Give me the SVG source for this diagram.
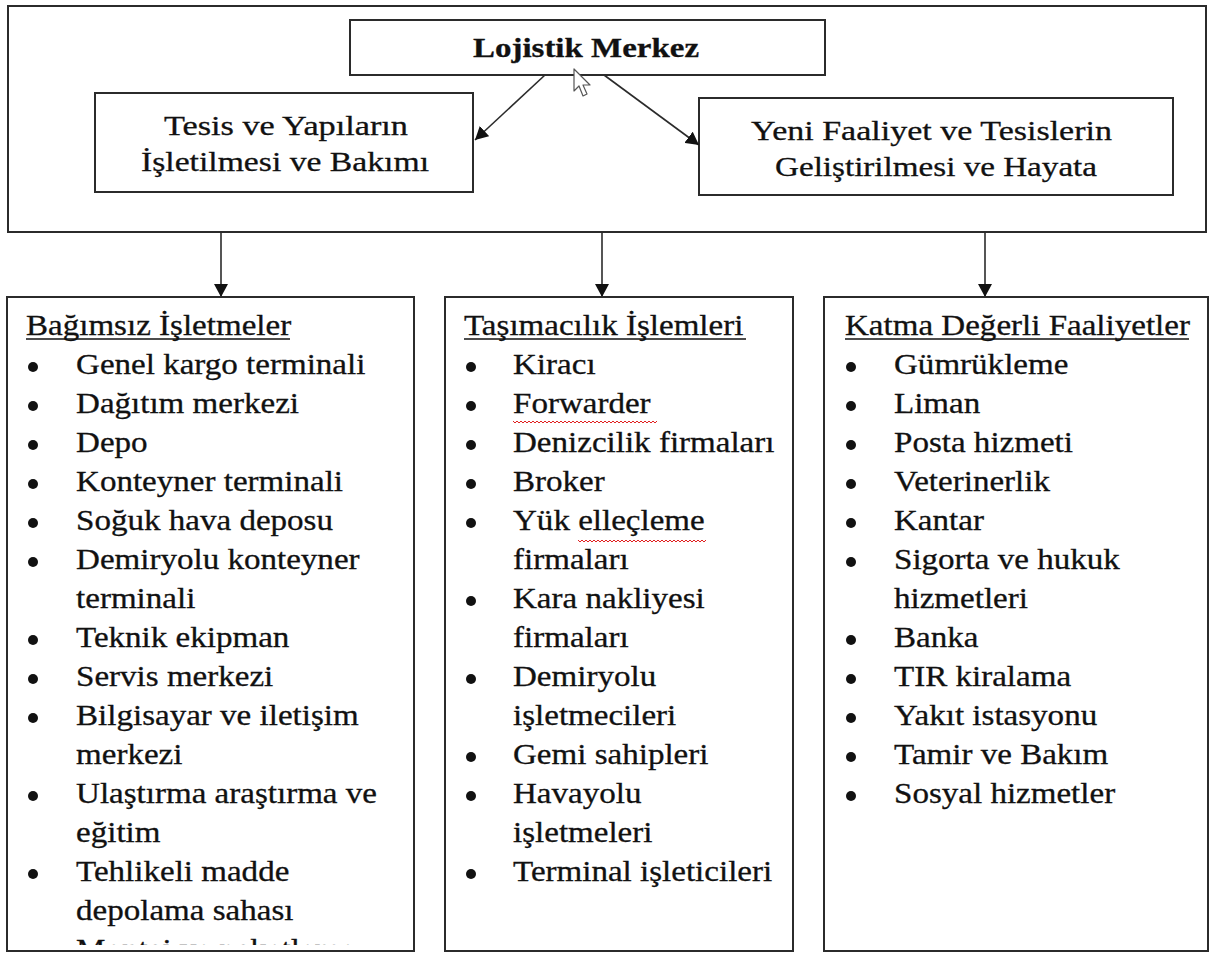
<svg xmlns="http://www.w3.org/2000/svg" width="1211" height="953" viewBox="0 0 1211 953">
  <style>
    .box { fill: #ffffff; stroke: #2b2b2b; stroke-width: 2; }
    .edge { fill: none; stroke: #2b2b2b; stroke-width: 1.6; }
    .top { font-family: "Liberation Serif", "Times New Roman", serif; font-size: 28px; fill: #111111; stroke: #111111; stroke-width: 0.3; }
    .title { font-weight: bold; }
    .col { font-family: "Liberation Serif", "Times New Roman", serif; font-size: 29px; fill: #111111; stroke: #111111; stroke-width: 0.3; }
    .uline { stroke: #111111; stroke-width: 1.5; }
    .dot { fill: #111111; }
    .spell { fill: none; stroke: #e02020; stroke-width: 1; }
  </style>
  <defs>
    <marker id="head" viewBox="0 0 13 14" refX="13" refY="7" markerWidth="13" markerHeight="14" markerUnits="userSpaceOnUse" orient="auto">
      <path d="M0,0 L13,7 L0,14 z" fill="#111111"/>
    </marker>
    <clipPath id="leftClip">
      <rect x="8" y="298" width="405" height="647"/>
    </clipPath>
  </defs>

  <rect width="1211" height="953" fill="#ffffff"/>

  <!-- outer frame of the logistics centre -->
  <g id="frame">
    <rect class="box" x="8" y="6" width="1198" height="226"/>
  </g>

  <g id="lojistik-merkez">
    <rect class="box" x="350" y="20" width="475" height="55"/>
    <text class="top title" x="473" y="57" textLength="226" lengthAdjust="spacingAndGlyphs">Lojistik Merkez</text>
  </g>

  <g id="tesis">
    <rect class="box" x="95" y="93" width="378" height="99"/>
    <text class="top" x="164" y="135" textLength="244" lengthAdjust="spacingAndGlyphs">Tesis ve Yapıların</text>
    <text class="top" x="141" y="171" textLength="288" lengthAdjust="spacingAndGlyphs">İşletilmesi ve Bakımı</text>
  </g>

  <g id="yeni-faaliyet">
    <rect class="box" x="699" y="98" width="474" height="97"/>
    <text class="top" x="751" y="140" textLength="361" lengthAdjust="spacingAndGlyphs">Yeni Faaliyet ve Tesislerin</text>
    <text class="top" x="775" y="176" textLength="322" lengthAdjust="spacingAndGlyphs">Geliştirilmesi ve Hayata</text>
  </g>

  <!-- connectors -->
  <g id="connectors">
    <line class="edge" x1="545" y1="75" x2="475" y2="140" marker-end="url(#head)"/>
    <line class="edge" x1="604" y1="75" x2="699" y2="145" marker-end="url(#head)"/>
    <line class="edge" x1="221" y1="232" x2="221" y2="297" marker-end="url(#head)"/>
    <line class="edge" x1="602" y1="232" x2="602" y2="297" marker-end="url(#head)"/>
    <line class="edge" x1="985" y1="232" x2="985" y2="297" marker-end="url(#head)"/>
  </g>

  <!-- mouse pointer -->
  <g id="pointer">
    <path d="M574,69 L574,91 L579,86 L583,96 L587,94 L583,85 L590,85 Z" fill="#ffffff" stroke="#555555" stroke-width="1.2" stroke-linejoin="round"/>
  </g>

  <!-- column 1 -->
  <g id="bagimsiz-isletmeler">
    <rect class="box" x="7" y="297" width="407" height="654"/>
    <line class="uline" x1="26" y1="339" x2="290" y2="339"/>
    <g class="dot">
      <circle cx="33" cy="367" r="5"/>
      <circle cx="33" cy="406" r="5"/>
      <circle cx="33" cy="445" r="5"/>
      <circle cx="33" cy="484" r="5"/>
      <circle cx="33" cy="523" r="5"/>
      <circle cx="33" cy="562" r="5"/>
      <circle cx="33" cy="640" r="5"/>
      <circle cx="33" cy="679" r="5"/>
      <circle cx="33" cy="718" r="5"/>
      <circle cx="33" cy="796" r="5"/>
      <circle cx="33" cy="874" r="5"/>
    </g>
    <g clip-path="url(#leftClip)">
      <g class="col" transform="translate(26,0) scale(1.14,1)">
        <text x="0" y="335">Bağımsız İşletmeler</text>
        <text x="43.9" y="374">Genel kargo terminali</text>
        <text x="43.9" y="413">Dağıtım merkezi</text>
        <text x="43.9" y="452">Depo</text>
        <text x="43.9" y="491">Konteyner terminali</text>
        <text x="43.9" y="530">Soğuk hava deposu</text>
        <text x="43.9" y="569">Demiryolu konteyner</text>
        <text x="43.9" y="608">terminali</text>
        <text x="43.9" y="647">Teknik ekipman</text>
        <text x="43.9" y="686">Servis merkezi</text>
        <text x="43.9" y="725">Bilgisayar ve iletişim</text>
        <text x="43.9" y="764">merkezi</text>
        <text x="43.9" y="803">Ulaştırma araştırma ve</text>
        <text x="43.9" y="842">eğitim</text>
        <text x="43.9" y="881">Tehlikeli madde</text>
        <text x="43.9" y="920">depolama sahası</text>
        <text x="43.9" y="959">Montaj ve paketleme</text>
      </g>
    </g>
  </g>

  <!-- column 2 -->
  <g id="tasimacilik-islemleri">
    <rect class="box" x="445" y="297" width="348" height="654"/>
    <line class="uline" x1="464" y1="339" x2="746" y2="339"/>
    <g class="dot">
      <circle cx="471" cy="367" r="5"/>
      <circle cx="471" cy="406" r="5"/>
      <circle cx="471" cy="445" r="5"/>
      <circle cx="471" cy="484" r="5"/>
      <circle cx="471" cy="523" r="5"/>
      <circle cx="471" cy="601" r="5"/>
      <circle cx="471" cy="679" r="5"/>
      <circle cx="471" cy="757" r="5"/>
      <circle cx="471" cy="796" r="5"/>
      <circle cx="471" cy="874" r="5"/>
    </g>
    <g class="col" transform="translate(464,0) scale(1.14,1)">
      <text x="0" y="335">Taşımacılık İşlemleri</text>
      <text x="43" y="374">Kiracı</text>
      <text x="43" y="413">Forwarder</text>
      <text x="43" y="452">Denizcilik firmaları</text>
      <text x="43" y="491">Broker</text>
      <text x="43" y="530">Yük elleçleme</text>
      <text x="43" y="569">firmaları</text>
      <text x="43" y="608">Kara nakliyesi</text>
      <text x="43" y="647">firmaları</text>
      <text x="43" y="686">Demiryolu</text>
      <text x="43" y="725">işletmecileri</text>
      <text x="43" y="764">Gemi sahipleri</text>
      <text x="43" y="803">Havayolu</text>
      <text x="43" y="842">işletmeleri</text>
      <text x="43" y="881">Terminal işleticileri</text>
    </g>
    <!-- spell-check marks -->
    <path class="spell" d="M513,421 l2,2 l2,-2 l2,2 l2,-2 l2,2 l2,-2 l2,2 l2,-2 l2,2 l2,-2 l2,2 l2,-2 l2,2 l2,-2 l2,2 l2,-2 l2,2 l2,-2 l2,2 l2,-2 l2,2 l2,-2 l2,2 l2,-2 l2,2 l2,-2 l2,2 l2,-2 l2,2 l2,-2 l2,2 l2,-2 l2,2 l2,-2 l2,2 l2,-2 l2,2 l2,-2 l2,2 l2,-2 l2,2 l2,-2 l2,2 l2,-2 l2,2 l2,-2 l2,2 l2,-2 l2,2 l2,-2 l2,2 l2,-2 l2,2 l2,-2 l2,2 l2,-2 l2,2 l2,-2 l2,2 l2,-2 l2,2 l2,-2 l2,2 l2,-2 l2,2 l2,-2 l2,2 l2,-2 l2,2 l2,-2 l2,2 l2,-2"/>
    <path class="spell" d="M578,540 l2,2 l2,-2 l2,2 l2,-2 l2,2 l2,-2 l2,2 l2,-2 l2,2 l2,-2 l2,2 l2,-2 l2,2 l2,-2 l2,2 l2,-2 l2,2 l2,-2 l2,2 l2,-2 l2,2 l2,-2 l2,2 l2,-2 l2,2 l2,-2 l2,2 l2,-2 l2,2 l2,-2 l2,2 l2,-2 l2,2 l2,-2 l2,2 l2,-2 l2,2 l2,-2 l2,2 l2,-2 l2,2 l2,-2 l2,2 l2,-2 l2,2 l2,-2 l2,2 l2,-2 l2,2 l2,-2 l2,2 l2,-2 l2,2 l2,-2 l2,2 l2,-2 l2,2 l2,-2 l2,2 l2,-2 l2,2 l2,-2 l2,2 l2,-2"/>
  </g>

  <!-- column 3 -->
  <g id="katma-degerli-faaliyetler">
    <rect class="box" x="824" y="297" width="384" height="654"/>
    <line class="uline" x1="845" y1="339" x2="1189" y2="339"/>
    <g class="dot">
      <circle cx="851" cy="367" r="5"/>
      <circle cx="851" cy="406" r="5"/>
      <circle cx="851" cy="445" r="5"/>
      <circle cx="851" cy="484" r="5"/>
      <circle cx="851" cy="523" r="5"/>
      <circle cx="851" cy="562" r="5"/>
      <circle cx="851" cy="640" r="5"/>
      <circle cx="851" cy="679" r="5"/>
      <circle cx="851" cy="718" r="5"/>
      <circle cx="851" cy="757" r="5"/>
      <circle cx="851" cy="796" r="5"/>
    </g>
    <g class="col" transform="translate(845,0) scale(1.14,1)">
      <text x="0" y="335">Katma Değerli Faaliyetler</text>
      <text x="43" y="374">Gümrükleme</text>
      <text x="43" y="413">Liman</text>
      <text x="43" y="452">Posta hizmeti</text>
      <text x="43" y="491">Veterinerlik</text>
      <text x="43" y="530">Kantar</text>
      <text x="43" y="569">Sigorta ve hukuk</text>
      <text x="43" y="608">hizmetleri</text>
      <text x="43" y="647">Banka</text>
      <text x="43" y="686">TIR kiralama</text>
      <text x="43" y="725">Yakıt istasyonu</text>
      <text x="43" y="764">Tamir ve Bakım</text>
      <text x="43" y="803">Sosyal hizmetler</text>
    </g>
  </g>
</svg>
